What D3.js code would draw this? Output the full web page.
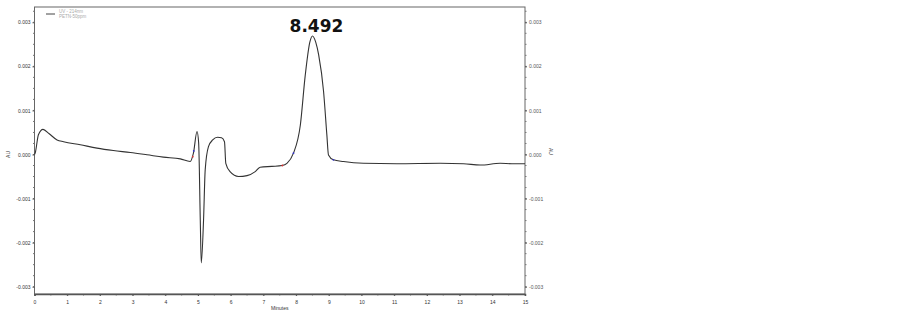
<!DOCTYPE html>
<html>
<head>
<meta charset="utf-8">
<script src="https://cdn.jsdelivr.net/npm/d3@7"></script>
<style>
  body { margin: 0; background: #fff; }
  svg { display: block; font-family: "Liberation Sans", Arial, sans-serif; }
</style>
</head>
<body>
<svg id="chart" width="899" height="314"></svg>
<script>
// retention time (minutes) and absorbance (AU)
var times = [0, 0.02, 0.12, 0.26, 0.45, 0.69, 0.89, 1.4, 1.91, 2.41, 2.93, 3.44, 3.94, 4.46, 4.76,
  4.86, 4.97, 5.02, 5.07, 5.10, 5.17, 5.22, 5.32, 5.45, 5.6, 5.72, 5.81, 5.85, 5.98, 6.24, 6.5,
  6.75, 6.9, 7.26, 7.57, 7.72, 7.92, 8.13, 8.28, 8.42, 8.5, 8.6, 8.69, 8.84, 8.94, 8.99, 9.14,
  9.45, 10.06, 11.08, 12.41, 13.12, 13.63, 14.24, 14.6, 15];
var absorb = [0, 0.00003, 0.00045, 0.00057, 0.00047, 0.00033, 0.00029, 0.00022, 0.000145, 0.00009,
  0.000045, -0.000007, -0.00006, -0.0001, -0.00016,
  0.00003, 0.00052, 0.00026, -0.0015, -0.00246, -0.00148, -0.00035, 0.00018, 0.00033, 0.00039,
  0.00038, 0.00029, -0.0002, -0.00039, -0.0005, -0.00048,
  -0.00039, -0.00029, -0.00027, -0.00025, -0.0002, 0.00003, 0.00067, 0.0018, 0.00255, 0.00269,
  0.00255, 0.00226, 0.00143, 0.00045, -0.00001, -0.00012,
  -0.00016, -0.0002, -0.00021, -0.0002, -0.00021, -0.00024, -0.0002, -0.00021, -0.00021];

// integration start/end marks
var markTimes = [4.84, 4.87, 7.58, 7.92, 9.14];
var markValues = [-0.00005, 0.00008, -0.00025, 0.00003, -0.00012];
var markColors = ["#d33", "#33c", "#d33", "#33c", "#33c"];

var yTicks = [-0.003, -0.002, -0.001, 0, 0.001, 0.002, 0.003];
var xTicks = d3.range(0, 16);
var legendLines = ["UV - 214nm", "PETN-50ppm"];
var peakLabel = "8.492";
var peakTime = 8.5;

var plotL = 34.5, plotR = 525, plotT = 7, plotB = 294;

var svg = d3.select("#chart");

var x = d3.scaleLinear().domain([0, 15]).range([plotL, plotR]);
var y = d3.scaleLinear().domain([-0.003166, 0.003347]).range([plotB, plotT]);

var fmt = function (d) { return d3.format(".3f")(d).replace("\u2212", "-"); };

// frame
svg.append("rect")
  .attr("x", plotL).attr("y", plotT)
  .attr("width", plotR - plotL).attr("height", plotB - plotT)
  .attr("fill", "none").attr("stroke", "#666").attr("stroke-width", 1);

// minor ticks
var yMinor = d3.range(-0.003, 0.00335, 0.00025);
svg.append("g").selectAll("line").data(yMinor).enter().append("line")
  .attr("x1", plotL - 1.5).attr("x2", plotL)
  .attr("y1", function (d) { return y(d); }).attr("y2", function (d) { return y(d); })
  .attr("stroke", "#777");
svg.append("g").selectAll("line").data(yMinor).enter().append("line")
  .attr("x1", plotR).attr("x2", plotR + 1.5)
  .attr("y1", function (d) { return y(d); }).attr("y2", function (d) { return y(d); })
  .attr("stroke", "#777");
svg.append("g").selectAll("line").data(d3.range(0, 15.01, 0.5)).enter().append("line")
  .attr("x1", function (d) { return x(d); }).attr("x2", function (d) { return x(d); })
  .attr("y1", plotB).attr("y2", plotB + 1.5)
  .attr("stroke", "#777");

// left axis
var yl = svg.append("g").attr("transform", "translate(" + plotL + ",0)")
  .call(d3.axisLeft(y).tickValues(yTicks).tickFormat(fmt).tickSize(2).tickPadding(2));
yl.select(".domain").remove();
yl.selectAll("line").attr("stroke", "#555");
yl.selectAll("text").attr("font-size", 5).attr("fill", "#333");

// right axis
var yr = svg.append("g").attr("transform", "translate(" + plotR + ",0)")
  .call(d3.axisRight(y).tickValues(yTicks).tickFormat(fmt).tickSize(2).tickPadding(2));
yr.select(".domain").remove();
yr.selectAll("line").attr("stroke", "#555");
yr.selectAll("text").attr("font-size", 5).attr("fill", "#555");

// bottom axis
var xa = svg.append("g").attr("transform", "translate(0," + plotB + ")")
  .call(d3.axisBottom(x).tickValues(xTicks).tickFormat(d3.format("d")).tickSize(2).tickPadding(4));
xa.select(".domain").attr("stroke", "#555").attr("stroke-width", 1.5);
xa.selectAll("line").attr("stroke", "#555");
xa.selectAll("text").attr("font-size", 5).attr("fill", "#333");

// axis titles
svg.append("text").attr("x", (plotL + plotR) / 2).attr("y", 310)
  .attr("text-anchor", "middle").attr("font-size", 5).attr("fill", "#333").text("Minutes");
svg.append("text").attr("transform", "translate(10," + y(0) + ") rotate(-90)")
  .attr("text-anchor", "middle").attr("font-size", 5).attr("fill", "#333").text("AU");
svg.append("text").attr("transform", "translate(549," + (y(0) - 3) + ") rotate(90)")
  .attr("text-anchor", "middle").attr("font-size", 5).attr("fill", "#333").text("AU");

// legend
svg.append("line").attr("x1", 46).attr("x2", 55).attr("y1", 14).attr("y2", 14)
  .attr("stroke", "#444").attr("stroke-width", 1);
svg.append("g").selectAll("text").data(legendLines).enter().append("text")
  .attr("x", 59).attr("y", function (d, i) { return 12.5 + i * 5.5; })
  .attr("font-size", 4.5).attr("fill", "#aaa").text(function (d) { return d; });

// trace
var pts = times.map(function (t, i) { return [t, absorb[i]]; });
var line = d3.line()
  .x(function (d) { return x(d[0]); })
  .y(function (d) { return y(d[1]); })
  .curve(d3.curveMonotoneX);
svg.append("path").datum(pts)
  .attr("d", line)
  .attr("fill", "none").attr("stroke", "#333").attr("stroke-width", 1.1);

// integration marks
svg.append("g").selectAll("circle").data(markTimes).enter().append("circle")
  .attr("cx", function (d) { return x(d); })
  .attr("cy", function (d, i) { return y(markValues[i]); })
  .attr("r", 0.9)
  .attr("fill", function (d, i) { return markColors[i]; });

// peak label
svg.append("text").attr("x", x(peakTime) + 4).attr("y", 32)
  .attr("text-anchor", "middle").attr("font-family", "'DejaVu Sans', Verdana, sans-serif")
  .attr("font-weight", "bold").attr("font-size", 17).attr("fill", "#111").text(peakLabel);
</script>
</body>
</html>
